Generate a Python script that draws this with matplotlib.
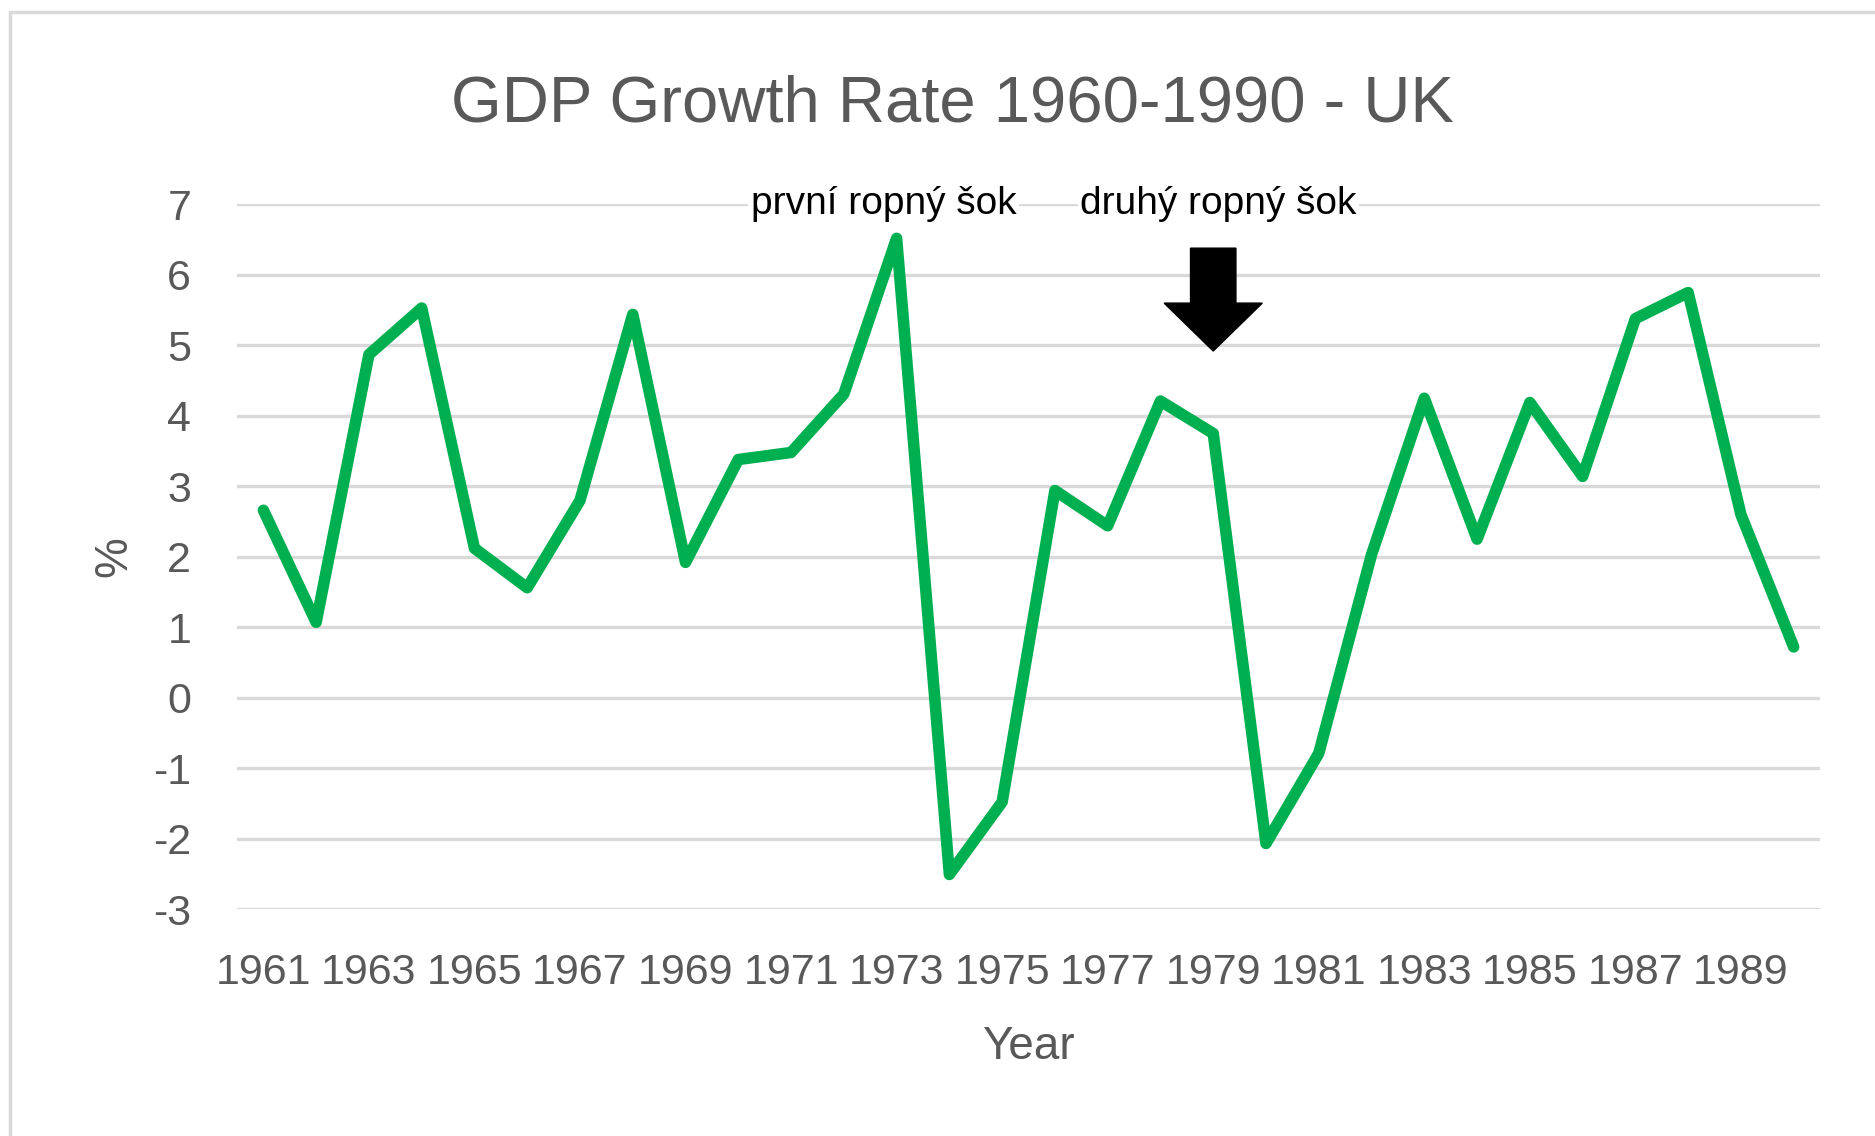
import matplotlib
matplotlib.use("Agg")
import matplotlib.pyplot as plt
from matplotlib.patches import FancyArrow, Rectangle

plt.rcParams['font.family'] = ['Liberation Sans Narrow', 'Liberation Sans', 'DejaVu Sans']
plt.rcParams['axes.unicode_minus'] = False

# GDP growth, UK
years = list(range(1961, 1991))
growth = [2.66, 1.07, 4.87, 5.53, 2.12, 1.56, 2.80, 5.44, 1.92, 3.38,
          3.48, 4.31, 6.52, -2.51, -1.48, 2.94, 2.44, 4.21, 3.75, -2.07,
          -0.79, 2.03, 4.25, 2.25, 4.19, 3.14, 5.38, 5.75, 2.60, 0.72]
tick_years = years[::2]
yticks = list(range(-3, 8))

shocks = ["první ropný šok", "druhý ropný šok"]
shock_x = [1972.75, 1979.1]
arrow_year = 1979

grey = '#595959'
green = '#00B050'

fig = plt.figure(figsize=(18.75, 11.36), dpi=100)
ax = fig.add_axes([0.1264, 0.1998, 0.8443, 0.6202])

# chart frame, Excel style (cut off at right/bottom)
fig.patches.append(Rectangle((10 / 1875, -0.1), 1.2, 1 - 12 / 1136 + 0.1,
                             transform=fig.transFigure, fill=False,
                             edgecolor='#D9D9D9', linewidth=2.5))

ax.plot(years, growth, color=green, linewidth=8.3, solid_joinstyle='round',
        solid_capstyle='round', zorder=3)

ax.set_xlim(1960.5, 1990.5)
ax.set_ylim(-3, 7)
ax.set_yticks(yticks)
ax.set_xticks(tick_years)
ax.set_xticklabels([str(y) for y in tick_years])
ax.grid(axis='y', color='#D9D9D9', linewidth=2.4)
ax.set_axisbelow(True)
for s in ax.spines.values():
    s.set_visible(False)
ax.tick_params(axis='both', length=0, labelsize=31, colors=grey)
ax.tick_params(axis='y', pad=33)
ax.tick_params(axis='x', pad=32)

ax.set_xlabel('Year', fontsize=33, color=grey, labelpad=23)
ax.set_ylabel('%', fontsize=33, color=grey, labelpad=12)
fig.suptitle('GDP Growth Rate 1960-1990 - UK', fontsize=47, color=grey,
             x=0.508, y=1 - 104 / 1136, va='center')

for label, xpos in zip(shocks, shock_x):
    ax.text(xpos, 7, label, fontsize=28, color='black', ha='center',
            va='center', zorder=4,
            bbox=dict(facecolor='white', edgecolor='none', pad=2))

ax.add_patch(FancyArrow(arrow_year, 6.38, 0, 4.92 - 6.38, width=0.86,
                        head_width=1.86, head_length=0.68,
                        length_includes_head=True, color='black', zorder=4))

fig.savefig('out.png', dpi=100, facecolor='white')
